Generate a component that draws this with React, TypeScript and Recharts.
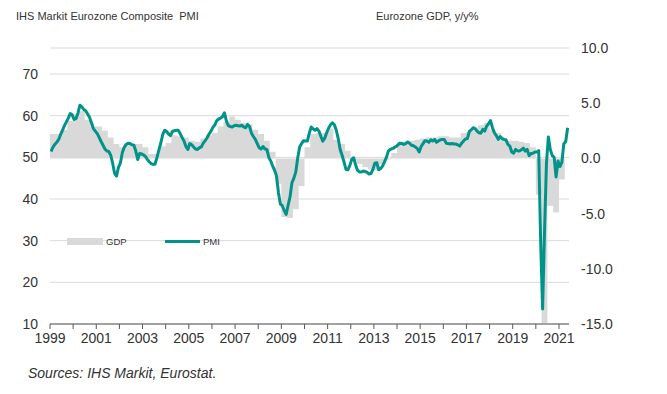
import React from "react";
import {
  ComposedChart,
  Line,
  Area,
  XAxis,
  YAxis,
  CartesianGrid,
} from "recharts";

// Monthly IHS Markit Eurozone Composite PMI, Jan 1999 .. May 2021
const PMI: number[] = [
  // 1999
  51.4, 52.4, 53.1, 53.6, 54.3, 55.5, 56.5, 57.6, 58.5, 59.4, 60.5, 60.2,
  // 2000
  59.1, 59.3, 60.6, 62.5, 62.1, 61.5, 61.2, 60.4, 59.6, 58.3, 56.9, 56.3,
  // 2001
  55.7, 54.8, 53.8, 52.9, 52.0, 51.5, 51.4, 50.5, 48.6, 46.2, 45.5, 47.6,
  // 2002
  48.6, 51.1, 52.4, 53.1, 53.4, 53.3, 53.0, 52.9, 51.5, 49.5, 50.9, 50.8,
  // 2003
  50.6, 50.2, 49.5, 48.9, 48.5, 48.3, 48.4, 50.0, 51.8, 53.5, 55.5, 56.5,
  // 2004
  56.2, 55.6, 55.2, 56.2, 56.4, 56.5, 56.5, 55.7, 54.8, 53.9, 52.6, 51.9,
  // 2005
  53.3, 53.0, 52.5, 52.0, 51.9, 52.3, 52.5, 53.4, 54.0, 54.7, 55.6, 56.3,
  // 2006
  57.2, 57.8, 58.8, 59.2, 59.4, 59.8, 60.7, 58.7, 57.6, 57.4, 57.3, 57.6,
  // 2007
  57.7, 57.6, 57.5, 57.7, 57.3, 57.1, 57.9, 57.4, 55.8, 55.0, 54.3, 53.3,
  // 2008
  52.3, 52.0, 52.6, 52.0, 51.9, 50.0, 49.1, 47.9, 46.9, 45.5, 41.5, 38.8,
  // 2009
  38.4, 37.2, 36.3, 38.5, 40.5, 43.9, 45.0, 46.5, 49.9, 52.5, 53.3, 54.0,
  // 2010
  53.9, 53.9, 55.8, 57.3, 56.8, 56.5, 56.9, 56.3, 55.0, 53.9, 54.6, 55.9,
  // 2011
  57.0, 57.8, 58.3, 57.8, 56.5, 54.5, 51.9, 50.5, 48.9, 47.1, 47.0, 48.0,
  // 2012
  49.5, 49.9, 48.2, 46.9, 46.5, 46.5, 46.7, 46.6, 46.4, 46.0, 46.1, 47.1,
  // 2013
  48.6, 48.7, 47.0, 47.3, 47.9, 48.9, 50.0, 51.5, 51.9, 52.1, 52.3, 52.6,
  // 2014
  53.0, 53.4, 53.3, 53.1, 53.3, 53.7, 53.4, 52.9, 52.8, 52.5, 52.1, 51.3,
  // 2015
  52.6, 53.3, 54.0, 53.9, 53.6, 54.2, 53.9, 54.3, 53.6, 53.9, 54.2, 54.3,
  // 2016
  54.3, 53.4, 53.3, 53.2, 53.3, 53.2, 53.2, 53.0, 52.7, 53.4, 53.9, 54.4,
  // 2017
  54.5, 56.2, 56.6, 57.1, 56.9, 56.3, 55.9, 55.8, 56.7, 56.3, 57.5, 58.1,
  // 2018
  58.8, 57.1, 55.9, 55.2, 54.3, 55.0, 54.5, 54.3, 54.2, 53.1, 52.7, 51.3,
  // 2019
  51.0, 51.9, 51.6, 51.5, 51.8, 52.2, 51.5, 51.9, 50.4, 50.9, 51.0, 51.3,
  // 2020
  51.3, 51.6, 29.7, 13.6, 31.9, 48.5, 54.9, 51.9, 50.4, 50.0, 45.3, 49.1,
  // 2021
  47.8, 48.8, 53.2, 53.8, 57.1,
];

// Quarterly Eurozone GDP, y/y %, 1999 Q1 .. 2021 Q1
const GDP: number[] = [
  2.2, 2.2, 2.6, 3.4, // 1999
  4.0, 4.3, 3.5, 2.9, // 2000
  2.9, 2.5, 1.9, 1.3, // 2001
  1.0, 1.3, 1.3, 1.3, // 2002
  1.0, 0.4, 0.4, 1.1, // 2003
  1.4, 2.1, 2.0, 1.9, // 2004
  1.6, 1.5, 1.8, 2.1, // 2005
  2.3, 2.9, 3.3, 3.8, // 2006
  3.5, 3.2, 3.1, 2.6, // 2007
  2.2, 1.6, 0.6, -2.3, // 2008
  -5.3, -5.4, -4.6, -2.5, // 2009
  1.0, 2.2, 2.3, 2.3, // 2010
  2.7, 1.7, 1.3, 0.7, // 2011
  -0.2, -0.5, -0.8, -1.0, // 2012
  -1.1, -0.5, -0.1, 0.5, // 2013
  1.5, 1.5, 1.6, 1.7, // 2014
  1.8, 1.9, 1.9, 2.0, // 2015
  2.0, 1.9, 1.9, 2.3, // 2016
  2.4, 2.8, 3.0, 3.2, // 2017
  2.6, 2.3, 1.8, 1.6, // 2018
  1.6, 1.5, 1.4, 1.0, // 2019
  -3.3, -14.9, -4.3, -4.9, // 2020
  -1.9, // 2021
];

const START_YEAR = 1999;
const YEAR_TICKS: number[] = [
  1999, 2000, 2001, 2002, 2003, 2004, 2005, 2006, 2007, 2008, 2009, 2010,
  2011, 2012, 2013, 2014, 2015, 2016, 2017, 2018, 2019, 2020, 2021,
];
const LABELLED_YEARS: number[] = [
  1999, 2001, 2003, 2005, 2007, 2009, 2011, 2013, 2015, 2017, 2019, 2021,
];
const PMI_TICKS: number[] = [10, 20, 30, 40, 50, 60, 70];
const GDP_TICKS: number[] = [-15, -10, -5, 0, 5, 10];

const TEAL = "#00938a";
const GREY = "#d9d9d9";
const FONT = "'Liberation Sans', Arial, sans-serif";
const TEXT = "#333333";

type Row = { x: number; pmi?: number; gdp?: number };

const rows: Row[] = [];
PMI.forEach((v, i) => rows.push({ x: i + 0.5, pmi: v }));
GDP.forEach((v, q) => rows.push({ x: q * 3, gdp: v }));
rows.push({ x: GDP.length * 3, gdp: GDP[GDP.length - 1] });
rows.sort((a, b) => a.x - b.x);

const monthTicks = YEAR_TICKS.map((y) => (y - START_YEAR) * 12);
const fmtX = (m: number) => {
  const y = START_YEAR + Math.round(m / 12);
  return LABELLED_YEARS.includes(y) ? String(y) : "";
};

export default function App() {
  return (
    <div
      style={{
        position: "absolute",
        left: 0,
        top: 0,
        width: 667,
        height: 394,
        background: "#ffffff",
        fontFamily: FONT,
      }}
    >
      <ComposedChart
        width={667}
        height={394}
        data={rows}
        margin={{ top: 48, right: 0, bottom: 0, left: 0 }}
      >
        <CartesianGrid
          yAxisId="l"
          vertical={false}
          stroke={GREY}
          strokeWidth={1}
        />
        <XAxis
          dataKey="x"
          type="number"
          domain={[0, 269.2]}
          ticks={monthTicks}
          tickFormatter={fmtX}
          interval={0}
          height={70}
          stroke="#595959"
          tickSize={5}
          tickMargin={4}
          tick={{ fill: TEXT, fontSize: 14, fontFamily: FONT }}
          allowDataOverflow
        />
        <YAxis
          yAxisId="l"
          orientation="left"
          type="number"
          domain={[10, 76.24]}
          ticks={PMI_TICKS}
          width={50}
          axisLine={false}
          tickLine={false}
          tickSize={0}
          tickMargin={12}
          tick={{ fill: TEXT, fontSize: 14, fontFamily: FONT }}
        />
        <YAxis
          yAxisId="r"
          orientation="right"
          type="number"
          domain={[-15, 10]}
          ticks={GDP_TICKS}
          width={98}
          axisLine={false}
          tickLine={false}
          tickSize={0}
          tickMargin={12}
          tickFormatter={(v: number) => v.toFixed(1)}
          tick={{ fill: TEXT, fontSize: 14, fontFamily: FONT, textAnchor: "start" }}
        />
        <Area
          yAxisId="r"
          dataKey="gdp"
          type="stepAfter"
          connectNulls
          baseValue={0}
          fill={GREY}
          fillOpacity={1}
          stroke="none"
          isAnimationActive={false}
          dot={false}
          activeDot={false}
        />
        <Line
          yAxisId="l"
          dataKey="pmi"
          type="linear"
          connectNulls
          stroke={TEAL}
          strokeWidth={3}
          strokeLinejoin="round"
          dot={false}
          activeDot={false}
          isAnimationActive={false}
        />
      </ComposedChart>
      <svg
        width={667}
        height={394}
        style={{ position: "absolute", left: 0, top: 0, pointerEvents: "none" }}
      >
        <text x={16} y={20} fontSize={11} fill={TEXT} fontFamily={FONT}>
          IHS Markit Eurozone Composite{"\u00a0 "}PMI
        </text>
        <text x={376} y={20} fontSize={11} fill={TEXT} fontFamily={FONT}>
          Eurozone GDP, y/y%
        </text>
        <rect x={67} y={238} width={36} height={7} fill={GREY} />
        <text x={106} y={245} fontSize={9.5} fill={TEXT} fontFamily={FONT}>
          GDP
        </text>
        <line x1={165} y1={241.5} x2={200} y2={241.5} stroke={TEAL} strokeWidth={3} />
        <text x={203} y={245} fontSize={9.5} fill={TEXT} fontFamily={FONT}>
          PMI
        </text>
        <text
          x={28}
          y={378}
          fontSize={14}
          fontStyle="italic"
          fill={TEXT}
          fontFamily={FONT}
        >
          Sources: IHS Markit, Eurostat.
        </text>
      </svg>
    </div>
  );
}
